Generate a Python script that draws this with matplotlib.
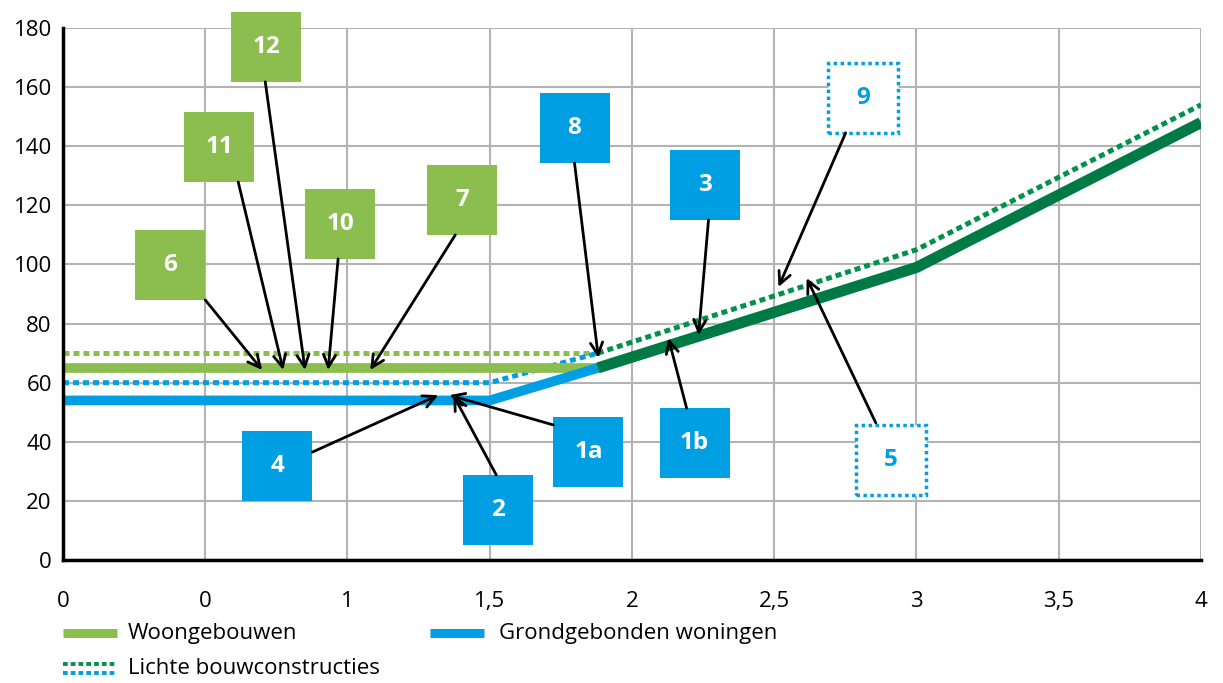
import matplotlib.pyplot as plt
from matplotlib.patches import Rectangle
from matplotlib.lines import Line2D

plt.rcParams['font.family'] = ['Open Sans', 'DejaVu Sans']

# data
x_ticks = [0, 0.5, 1, 1.5, 2, 2.5, 3, 3.5, 4]
x_labels = ["0", "0", "1", "1,5", "2", "2,5", "3", "3,5", "4"]
y_ticks = [0, 20, 40, 60, 80, 100, 120, 140, 160, 180]

woon_x = [0, 1.88]
woon_y = [65, 65]
grond_x = [0, 1.5, 1.88]
grond_y = [54, 54, 65]
common_x = [1.88, 3, 4]
common_y = [65, 99, 148]

licht_woon_x = [0, 1.88]
licht_woon_y = [70, 70]
licht_grond_x = [0, 1.5, 1.88]
licht_grond_y = [60, 60, 70]
licht_common_x = [1.88, 3, 4]
licht_common_y = [70, 105, 154]

# label, box centre, arrow tail, arrow head, style
labels = ["6", "11", "12", "10", "7", "8", "3", "9", "5", "1b", "1a", "2", "4"]
box_xy = [(0.376, 99.8), (0.549, 139.8), (0.714, 173.6), (0.975, 113.7), (1.404, 121.8),
          (1.798, 146.2), (2.255, 126.9), (2.811, 156.3), (2.909, 33.8), (2.220, 39.6),
          (1.847, 36.5), (1.530, 16.9), (0.753, 31.8)]
tail_xy = [(0.50, 88), (0.616, 127.9), (0.711, 161.8), (0.967, 101.9), (1.379, 110),
           (1.798, 134.3), (2.269, 115.1), (2.751, 144.5), (2.857, 46.4), (2.192, 51.4),
           (1.724, 45.7), (1.523, 28.8), (0.876, 36.5)]
head_xy = [(0.700, 64.3), (0.774, 64.3), (0.851, 64.3), (0.932, 64.3), (1.080, 64.3),
           (1.882, 68.4), (2.234, 76.1), (2.515, 92.4), (2.614, 95.4), (2.128, 75.1),
           (1.358, 55.8), (1.372, 55.8), (1.319, 55.8)]
kinds = ["green"] * 5 + ["blue", "blue", "dotted", "dotted", "blue", "blue", "blue", "blue"]

GREEN = "#8bbe4f"
BLUE = "#009fe3"
DARK = "#007a45"
DARK_DOT = "#00924a"

fig = plt.figure(figsize=(12.23, 6.83), dpi=100)
ax = fig.add_axes([0.0515, 0.180, 0.9305, 0.779])

ax.plot(licht_woon_x, licht_woon_y, color=GREEN, lw=3.6, ls=(0, (1.2, 0.8)), zorder=3)
ax.plot(licht_grond_x, licht_grond_y, color=BLUE, lw=3.6, ls=(0, (1.2, 0.8)), zorder=3)
ax.plot(licht_common_x, licht_common_y, color=DARK_DOT, lw=3.6, ls=(0, (1.2, 0.8)), zorder=3)
ax.plot(woon_x, woon_y, color=GREEN, lw=7, solid_capstyle="butt", zorder=4)
ax.plot(grond_x, grond_y, color=BLUE, lw=7, solid_capstyle="butt", zorder=4)
ax.plot(common_x, common_y, color=DARK, lw=8, solid_capstyle="butt", zorder=4)

hw, hh = 0.123, 11.84
for lab, (cx, cy), tail, head, kind in zip(labels, box_xy, tail_xy, head_xy, kinds):
    if kind == "dotted":
        rect = Rectangle((cx - hw, cy - hh), 2 * hw, 2 * hh, facecolor="white",
                         edgecolor=BLUE, lw=2.5, ls=(0, (1, 1)), zorder=5, clip_on=False)
        tc = BLUE
    else:
        rect = Rectangle((cx - hw, cy - hh), 2 * hw, 2 * hh,
                         facecolor=GREEN if kind == "green" else BLUE,
                         edgecolor="none", zorder=5, clip_on=False)
        tc = "white"
    ax.add_patch(rect)
    ax.text(cx, cy, lab, color=tc, fontsize=17.5, fontweight="bold",
            ha="center", va="center", zorder=6)
    ax.annotate("", xy=head, xytext=tail,
                arrowprops=dict(arrowstyle="->", color="black", lw=2,
                                mutation_scale=22, shrinkA=0, shrinkB=0),
                zorder=7, annotation_clip=False)

ax.set_xlim(0, 4)
ax.set_ylim(0, 180)
ax.set_xticks(x_ticks)
ax.set_xticklabels(x_labels)
ax.set_yticks(y_ticks)
ax.tick_params(length=0, labelsize=16, pad=22, axis="x")
ax.tick_params(length=0, labelsize=16, pad=8, axis="y")
ax.grid(True, color="#b3b3b3", lw=1.5)
ax.set_axisbelow(True)
for s in ["top", "right"]:
    ax.spines[s].set_visible(False)
for s in ["left", "bottom"]:
    ax.spines[s].set_linewidth(2.5)
    ax.spines[s].set_color("black")
    ax.spines[s].set_zorder(8)

# legend
def fx(px):
    return px / 1223

def fy(py):
    return 1 - py / 683

fig.add_artist(Line2D([fx(63), fx(117)], [fy(633), fy(633)], color=GREEN, lw=6.5,
                      solid_capstyle="butt"))
fig.text(fx(128), fy(633), "Woongebouwen", fontsize=16, va="center")
fig.add_artist(Line2D([fx(430), fx(484)], [fy(633), fy(633)], color=BLUE, lw=6.5,
                      solid_capstyle="butt"))
fig.text(fx(499), fy(633), "Grondgebonden woningen", fontsize=16, va="center")
fig.add_artist(Line2D([fx(63), fx(117)], [fy(664), fy(664)], color=DARK_DOT, lw=2.8,
                      ls=(0, (1.2, 0.8))))
fig.add_artist(Line2D([fx(63), fx(117)], [fy(673), fy(673)], color=BLUE, lw=2.8,
                      ls=(0, (1.2, 0.8))))
fig.text(fx(128), fy(668), "Lichte bouwconstructies", fontsize=16, va="center")

fig.savefig("out.png", dpi=100)
